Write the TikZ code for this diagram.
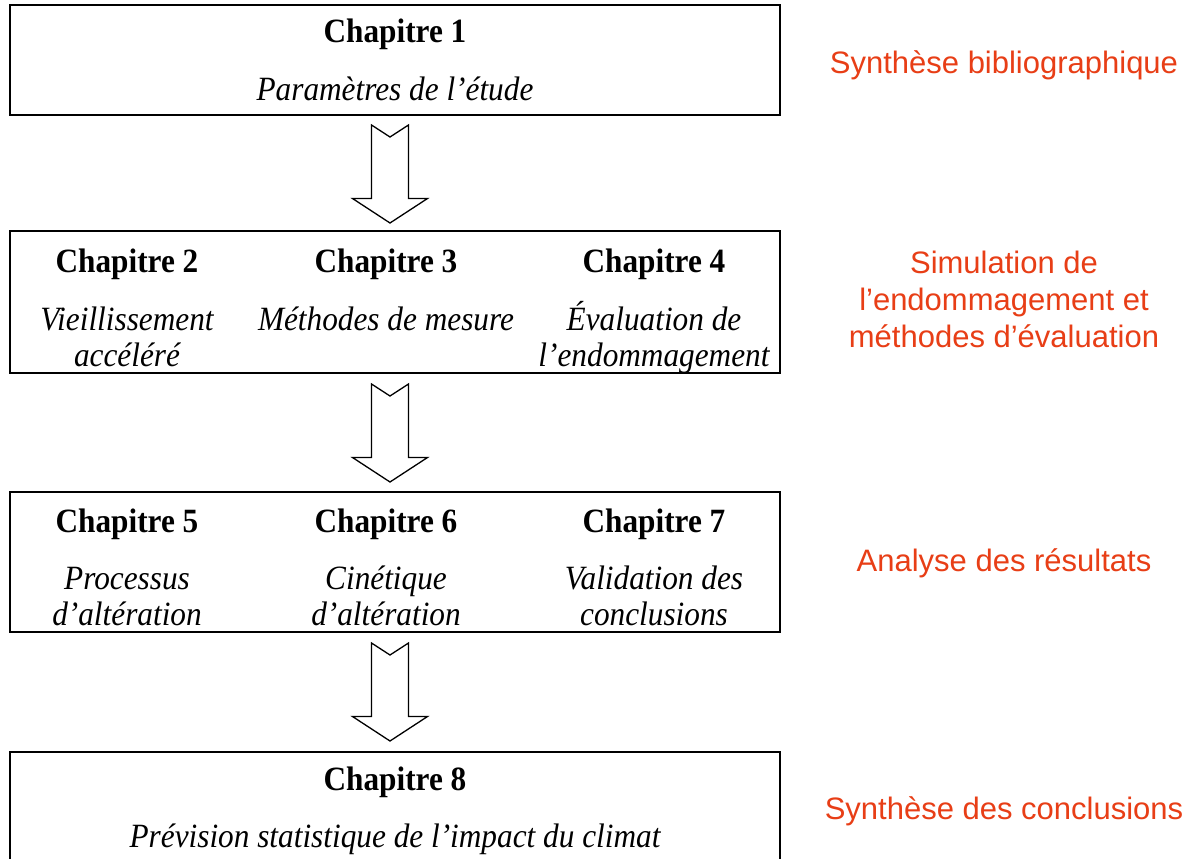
\documentclass[tikz,border=0pt]{standalone}
\usepackage{fontspec}
\setmainfont{Liberation Serif}[FakeStretch=0.92]
\newfontfamily\redsans{Liberation Sans}
\usetikzlibrary{calc}
\definecolor{redlab}{RGB}{232,62,22}
\tikzset{
  chbox/.style={draw=black, line width=1.5pt, fill=none},
  ttl/.style={anchor=base, inner sep=0pt, font=\fontsize{34}{40}\selectfont\bfseries},
  sub/.style={anchor=base, inner sep=0pt, font=\fontsize{34}{40}\selectfont\itshape},
  lab/.style={anchor=base, inner sep=0pt, text=redlab, font=\redsans\fontsize{31}{37}\selectfont},
  bigarrow/.style={draw=black, line width=1.3pt, fill=white, line join=miter}
}
\newcommand{\notcharrow}[3]{% x, top y, tip y (px, y downwards)
  \draw[bigarrow] (#1-18.5,-#2) -- (#1,-#2-12) -- (#1+18.5,-#2) -- (#1+18.5,-#3+24.5)
    -- (#1+37.5,-#3+24.5) -- (#1,-#3) -- (#1-37.5,-#3+24.5) -- (#1-18.5,-#3+24.5) -- cycle;}
\begin{document}
\begin{tikzpicture}[x=1pt,y=1pt]
\clip (0,0) rectangle (1195,-859);
\fill[white] (0,0) rectangle (1195,-859);
% boxes
\draw[chbox] (10,-5) rectangle (780,-115) node[coordinate] (b1) {};
\draw[chbox] (10,-231) rectangle (780,-373) node[coordinate] (b2) {};
\draw[chbox] (10,-492) rectangle (780,-632) node[coordinate] (b3) {};
\draw[chbox] (10,-752) rectangle (780,-880) node[coordinate] (b4) {};
% box 1
\node[ttl] (c1) at (395,-43) {Chapitre 1};
\node[sub] (s1) at (395,-100) {Paramètres de l’étude};
% box 2
\node[ttl] (c2) at (127,-272) {Chapitre 2};
\node[ttl] (c3) at (386,-272) {Chapitre 3};
\node[ttl] (c4) at (654,-272) {Chapitre 4};
\node[sub] (s2a) at (127,-330) {Vieillissement};
\node[sub] (s2b) at (127,-366) {accéléré};
\node[sub] (s3a) at (386,-330) {Méthodes de mesure};
\node[sub] (s4a) at (654,-330) {Évaluation de};
\node[sub] (s4b) at (654,-366) {l’endommagement};
% box 3
\node[ttl] (c5) at (127,-532) {Chapitre 5};
\node[ttl] (c6) at (386,-532) {Chapitre 6};
\node[ttl] (c7) at (654,-532) {Chapitre 7};
\node[sub] (s5a) at (127,-589) {Processus};
\node[sub] (s5b) at (127,-625) {d’altération};
\node[sub] (s6a) at (386,-589) {Cinétique};
\node[sub] (s6b) at (386,-625) {d’altération};
\node[sub] (s7a) at (654,-589) {Validation des};
\node[sub] (s7b) at (654,-625) {conclusions};
% box 4
\node[ttl] (c8) at (395,-790) {Chapitre 8};
\node[sub] (s8) at (395,-847) {Prévision statistique de l’impact du climat};
% arrows
\notcharrow{390}{125}{223}
\notcharrow{390}{384}{482}
\notcharrow{390}{643}{741}
% red labels
\node[lab] (l1) at (1004,-74) {Synthèse bibliographique};
\node[lab] (l2a) at (1004,-273) {Simulation de};
\node[lab] (l2b) at (1004,-310) {l’endommagement et};
\node[lab] (l2c) at (1004,-347) {méthodes d’évaluation};
\node[lab] (l3) at (1004,-571) {Analyse des résultats};
\node[lab] (l4) at (1004,-819) {Synthèse des conclusions};
\end{tikzpicture}
\end{document}
